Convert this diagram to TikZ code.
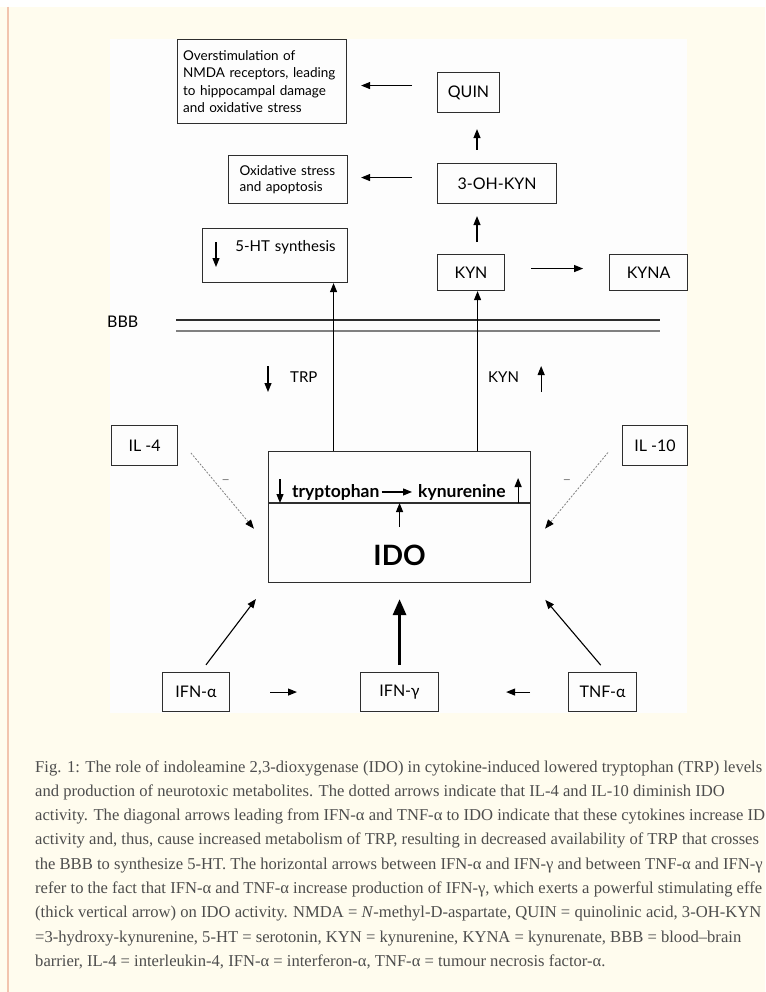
\documentclass[tikz,border=0pt]{standalone}
\usepackage{fontspec}
\setmainfont{Liberation Serif}
\setsansfont{Lato}
\usetikzlibrary{positioning, arrows.meta, calc}
\definecolor{pagecream}{HTML}{FFFCEE}
\definecolor{edgepink}{HTML}{F2C4AE}
\definecolor{figwhite}{HTML}{FDFDFD}
\definecolor{inkgray}{HTML}{2E2E2E}
\definecolor{capgray}{HTML}{4D4D4D}
\tikzset{
  box/.style     = {rectangle, draw=inkgray, line width=1.1pt, align=center,
                    inner sep=0pt, anchor=north west,
                    font=\sffamily\fontsize{16}{18}\selectfont},
  effect/.style  = {align=left, inner xsep=6pt,
                    font=\sffamily\fontsize{13.5}{17.5}\selectfont},
  rowtxt/.style  = {inner sep=0pt, font=\sffamily\bfseries\fontsize{17.5}{19}\selectfont},
  lab/.style     = {inner sep=0pt, font=\sffamily\fontsize{15}{17}\selectfont},
  minus/.style   = {inner sep=0pt, text=gray, font=\sffamily\fontsize{15}{17}\selectfont},
  arr/.style     = {draw=black, line width=1.1pt, -{Triangle[length=9pt,width=7pt]}},
  bigarr/.style  = {draw=black, line width=3pt, -{Triangle[length=16pt,width=13pt]}},
  dotarr/.style  = {draw=gray, line width=0.8pt, dash pattern=on 2pt off 1.5pt,
                    -{Triangle[length=9pt,width=7pt,color=black]}},
  barrier/.style = {draw=inkgray, line width=1.6pt},
  caption/.style = {inner sep=0pt, anchor=base west, text=capgray,
                    font=\rmfamily\fontsize{16.6}{18}\selectfont},
}

\begin{document}
\begin{tikzpicture}[x=1pt, y=-1pt]
\useasboundingbox (0,0) rectangle (765,992);
\clip (0,0) rectangle (765,992);

% page and figure background
\fill[white] (0,0) rectangle (765,7);
\fill[pagecream] (0,7) rectangle (765,992);
\draw[edgepink, line width=1.5pt] (8,7) -- (8,992);
\fill[figwhite] (110,39) rectangle (687,713);

% Top: kynurenine pathway above the barrier
\node (quin) [box, minimum width=62, minimum height=40] at (437,72) {QUIN};
\node (ohkyn) [box, minimum width=119, minimum height=40] at (437,163) {3-OH-KYN};
\node (kyn) [box, minimum width=67, minimum height=36] at (437,254) {KYN};
\node (kyna) [box, minimum width=78, minimum height=36, right=104pt of kyn] {KYNA};

\node (overstim) [box, effect, inner xsep=5.5pt, minimum width=169, minimum height=84, text width=158] at (177,39)
  {Overstimulation of\\NMDA receptors, leading\\to hippocampal damage\\and oxidative stress};
\node (oxid) [box, effect, inner xsep=11pt, minimum width=119, minimum height=48, text width=97,
  font=\sffamily\fontsize{13.5}{16}\selectfont] at (228,155) {Oxidative stress\\and apoptosis};
\node (ht) [box, align=right, inner xsep=12pt, text width=121, text height=17, text depth=25,
  minimum width=145, minimum height=54, font=\sffamily\fontsize{15}{17}\selectfont] at (202,228) {5-HT synthesis};

\draw [arr, shorten <=25, shorten >=14] ([yshift=7]quin.west) -- ([yshift=7]quin.west -| overstim.east);
\draw [arr, shorten <=25, shorten >=13] ([yshift=6]ohkyn.west) -- ([yshift=6]ohkyn.west -| oxid.east);
\draw [arr, shorten <=13, shorten >=16] ([xshift=40]ohkyn.north west) -- ([xshift=40]ohkyn.north west |- quin.south);
\draw [arr, shorten <=12, shorten >=12] ([xshift=40]kyn.north west) -- ([xshift=40]kyn.north west |- ohkyn.south);
\draw [arr, shorten <=26, shorten >=26] ([yshift=4]kyn.east) -- ([yshift=4]kyn.east -| kyna.west);
\draw [arr] ([xshift=14,yshift=-14]ht.north west) -- ([xshift=14,yshift=-39]ht.north west);

% Blood-brain barrier
\node (bbb) [lab, anchor=west, font=\sffamily\fontsize{16}{18}\selectfont] at (107,322) {BBB};
\draw [barrier] (176,320) -- (660,320);
\draw [barrier, draw=gray] (176,331) -- (660,331);

\node (trplab) [lab, anchor=west] at (290,377) {TRP};
\node (kynlab) [lab, anchor=west] at (488,377) {KYN};
\draw [arr] ([xshift=-22,yshift=11]trplab.west) -- ([xshift=-22,yshift=-15]trplab.west);
\draw [arr] ([xshift=22,yshift=-15]kynlab.east) -- ([xshift=22,yshift=11]kynlab.east);

% IDO box with the tryptophan -> kynurenine row
\node (ido) [box, minimum width=262, minimum height=131, inner ysep=0pt, text height=97, text depth=0,
  font=\sffamily\bfseries\fontsize{28}{30}\selectfont] at (268,451) {IDO};
\draw [draw=inkgray, line width=1.1pt] ([yshift=-52]ido.north west) -- ([yshift=-52]ido.north east);
\node (trp) [rowtxt, anchor=base west] at (292,497) {tryptophan};
\node (kynr) [rowtxt, anchor=base west] at (418,497) {kynurenine};
\draw [arr, shorten <=2, shorten >=6] (trp) -- (kynr);
\draw [arr] ([xshift=12,yshift=-28]ido.north west) -- ([xshift=12,yshift=-52]ido.north west);
\draw [arr] ([xshift=-13,yshift=-52]ido.north east) -- ([xshift=-13,yshift=-27]ido.north east);
\draw [arr] ([yshift=-76]ido.north) -- ([yshift=-52]ido.north);

\draw [arr] ([xshift=-66]ido.north) -- ([xshift=-66]ido.north |- ht.south);
\draw [arr] ([xshift=78]ido.north) -- ([xshift=78]ido.north |- kyn.south);

% Cytokines
\node (il4) [box, minimum width=66, minimum height=40] at (111,425) {IL -4};
\node (il10) [box, minimum width=65, minimum height=40] at (622,425) {IL -10};
\node (ifna) [box, minimum width=67, minimum height=39] at (162,672) {IFN-α};
\node (ifng) [box, minimum width=78, minimum height=39] at (360,672) {IFN-γ};
\node (tnfa) [box, minimum width=68, minimum height=39] at (568,672) {TNF-α};

\draw [dotarr, shorten <=20, shorten >=22] ([yshift=8]il4.east) --
  node [minus, pos=0.41, right=6pt] {–} ([yshift=-28.5]ido.west);
\draw [dotarr, shorten <=22, shorten >=22] ([yshift=10]il10.west) --
  node [minus, pos=0.42, left=12pt] {–} ([yshift=-28.5]ido.east);
\draw [arr, shorten <=9, shorten >=20] ([xshift=4.5]ifna.north) -- (ido.south west);
\draw [arr, shorten <=9, shorten >=22] ([xshift=4]tnfa.north) -- (ido.south east);
\draw [bigarr, shorten <=7, shorten >=16] (ifng.north) -- (ido.south);
\draw [arr, shorten <=40, shorten >=63] (ifna) -- (ifng);
\draw [arr, shorten <=38, shorten >=67] (tnfa) -- (ifng);

% Caption (lines end where the page cuts them)
\foreach \txt [count=\i] in {
  {Fig. 1: The role of indoleamine 2,3-dioxygenase (IDO) in cytokine-induced lowered tryptophan (TRP) levels},
  {and production of neurotoxic metabolites. The dotted arrows indicate that IL-4 and IL-10 diminish IDO},
  {activity. The diagonal arrows leading from IFN-α and TNF-α to IDO indicate that these cytokines increase ID},
  {activity and, thus, cause increased metabolism of TRP, resulting in decreased availability of TRP that crosses},
  {the BBB to synthesize 5-HT. The horizontal arrows between IFN-α and IFN-γ and between TNF-α and IFN-γ},
  {refer to the fact that IFN-α and TNF-α increase production of IFN-γ, which exerts a powerful stimulating effe},
  {(thick vertical arrow) on IDO activity. NMDA = \textit{N}-methyl-D-aspartate, QUIN = quinolinic acid, 3-OH-KYN},
  {=3-hydroxy-kynurenine, 5-HT = serotonin, KYN = kynurenine, KYNA = kynurenate, BBB = blood–brain},
  {barrier, IL-4 = interleukin-4, IFN-α = interferon-α, TNF-α = tumour necrosis factor-α.}}
  \node (cap\i) [caption] at (35, {747.7+24.3*\i}) {\txt};

\end{tikzpicture}
\end{document}
